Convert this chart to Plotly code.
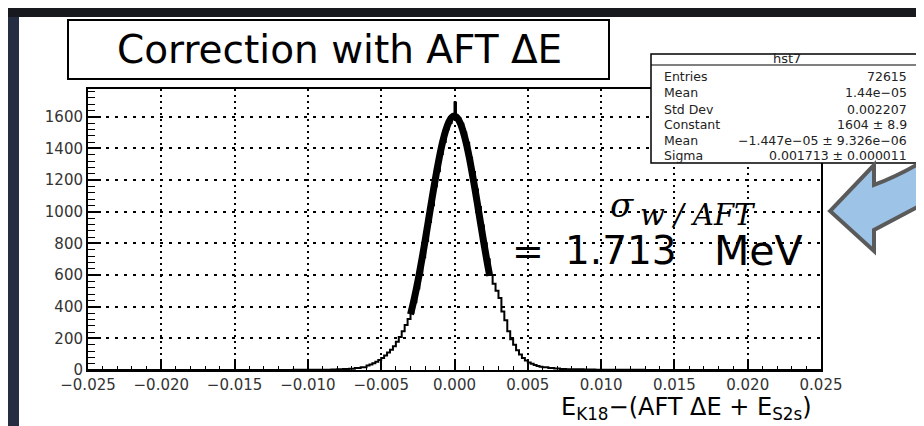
import plotly.graph_objects as go

# ---------------- data ----------------
hist_x = [-0.0250, -0.0110, -0.0100, -0.0094, -0.0088, -0.0084, -0.0080, -0.0076, -0.0072, -0.0068,
          -0.0064, -0.0060, -0.0058, -0.0056, -0.0054, -0.0052, -0.0050, -0.0048, -0.0046, -0.0044,
          -0.0042, -0.0040, -0.0038, -0.0036, -0.0034, -0.0032, -0.0030, -0.0028, -0.0026, -0.0024,
          -0.0022, -0.0020, -0.0018, -0.0016, -0.0014, -0.0012, -0.0010, -0.0008, -0.0006, -0.0004,
          -0.0002, 0.0000, 0.0001, 0.0002, 0.0004, 0.0006, 0.0008, 0.0010, 0.0012, 0.0014,
          0.0016, 0.0018, 0.0020, 0.0022, 0.0024, 0.0026, 0.0028, 0.0030, 0.0032, 0.0034,
          0.0036, 0.0038, 0.0040, 0.0042, 0.0044, 0.0046, 0.0048, 0.0050, 0.0052, 0.0054,
          0.0056, 0.0058, 0.0060, 0.0064, 0.0068, 0.0072, 0.0076, 0.0080, 0.0088, 0.0096,
          0.0110, 0.0130, 0.0250]
hist_y = [0, 1, 1, 2, 2, 3, 4, 6, 8, 12,
          18, 28, 35, 43, 52, 63, 76, 92, 110, 128,
          150, 178, 208, 245, 285, 322, 362, 428, 515, 605,
          712, 815, 935, 1040, 1160, 1255, 1365, 1440, 1520, 1560,
          1600, 1690, 1610, 1590, 1555, 1500, 1435, 1340, 1250, 1140,
          1030, 912, 800, 700, 600, 545, 500, 455, 370, 315,
          245, 195, 160, 125, 98, 76, 60, 48, 40, 32,
          26, 21, 17, 12, 9, 7, 5, 4, 3, 2,
          1, 0, 0]

fit_x = [-0.0030, -0.0028, -0.0026, -0.0024, -0.0022, -0.0020, -0.0018, -0.0016, -0.0014, -0.0012,
         -0.0010, -0.0008, -0.0006, -0.0004, -0.0002, 0.0000, 0.0002, 0.0004, 0.0006, 0.0008,
         0.0010, 0.0012, 0.0014, 0.0016, 0.0018, 0.0020, 0.0022, 0.0024]
fit_y = [351, 428, 513, 608, 711, 819, 932, 1045, 1157, 1262,
         1359, 1444, 1513, 1564, 1595, 1604, 1591, 1558, 1504, 1433,
         1346, 1247, 1141, 1029, 915, 803, 696, 594]

x_ticks = [-0.025, -0.020, -0.015, -0.010, -0.005, 0.000, 0.005, 0.010, 0.015, 0.020, 0.025]
y_ticks = [0, 200, 400, 600, 800, 1000, 1200, 1400, 1600]

stat_title = "hst7"
stat_labels = ["Entries", "Mean", "Std Dev", "Constant", "Mean", "Sigma"]
stat_values = ["72615", "1.44e−05", "0.002207", "1604 ± 8.9",
               "−1.447e−05 ± 9.326e−06", "0.001713 ± 0.000011"]

title_text = "Correction with AFT ΔE"
xlabel_text = "E<sub>K18</sub>−(AFT ΔE + E<sub>S2s</sub>)"

# ---------------- layout geometry (pixels) ----------------
W, H = 924, 426
L, R, T, B = 80, 813, 81, 362


def px(xp):
    return (xp - L) / (R - L)


def py(yp):
    return (B - yp) / (B - T)


fig = go.Figure()
fig.add_trace(go.Scatter(x=hist_x, y=hist_y, mode="lines", line=dict(color="black", width=2, shape="hv"),
                         hoverinfo="skip", showlegend=False))
fig.add_trace(go.Scatter(x=fit_x, y=fit_y, mode="lines", line=dict(color="black", width=7, shape="spline"),
                         hoverinfo="skip", showlegend=False))

shapes = []
# dark slide background strips
shapes.append(dict(type="rect", xref="paper", yref="paper", x0=px(0), x1=px(11), y0=py(H), y1=py(0),
                   fillcolor="#252d42", line=dict(width=0), layer="above"))
shapes.append(dict(type="rect", xref="paper", yref="paper", x0=px(0), x1=px(W), y0=py(9), y1=py(0),
                   fillcolor="#17191f", line=dict(width=0), layer="above"))
# title box
shapes.append(dict(type="rect", xref="paper", yref="paper", x0=px(60), x1=px(601), y0=py(71), y1=py(12),
                   fillcolor="white", line=dict(color="black", width=2), layer="above"))
# stats box
shapes.append(dict(type="rect", xref="paper", yref="paper", x0=px(643), x1=px(916), y0=py(155), y1=py(46),
                   fillcolor="white", line=dict(color="black", width=1.5), layer="above"))
shapes.append(dict(type="line", xref="paper", yref="paper", x0=px(643), x1=px(916), y0=py(57), y1=py(57),
                   line=dict(color="black", width=1), layer="above"))
# curved arrow
path = "M {:.4f},{:.4f} L {:.4f},{:.4f} L {:.4f},{:.4f} ".format(px(822), py(203), px(866), py(157), px(866), py(177))
path += "Q {:.4f},{:.4f} {:.4f},{:.4f} ".format(px(896), py(166), px(930), py(144))
path += "L {:.4f},{:.4f} ".format(px(930), py(188))
path += "Q {:.4f},{:.4f} {:.4f},{:.4f} ".format(px(896), py(206), px(866), py(222))
path += "L {:.4f},{:.4f} Z".format(px(866), py(243))
shapes.append(dict(type="path", xref="paper", yref="paper", path=path,
                   fillcolor="#9dc3e6", line=dict(color="#5a5a5a", width=4), layer="above"))

ann = []
ann.append(dict(text=title_text, x=px(331), y=py(42), xref="paper", yref="paper", showarrow=False,
                font=dict(family="DejaVu Sans", size=39, color="black"), xanchor="center", yanchor="middle"))
ann.append(dict(text=stat_title, x=px(779), y=py(51), xref="paper", yref="paper", showarrow=False,
                font=dict(family="DejaVu Sans", size=13, color="#222"), xanchor="center", yanchor="middle"))
row_y = [69, 85, 101, 116, 132, 147]
for lab, val, yy in zip(stat_labels, stat_values, row_y):
    ann.append(dict(text=lab, x=px(654), y=py(yy), xref="paper", yref="paper", showarrow=False,
                    font=dict(family="DejaVu Sans", size=12.5, color="#222"), xanchor="left", yanchor="middle"))
    ann.append(dict(text=val, x=px(901), y=py(yy), xref="paper", yref="paper", showarrow=False,
                    font=dict(family="DejaVu Sans", size=12.5, color="#222"), xanchor="right", yanchor="middle"))
# sigma annotation
ann.append(dict(text="<i>σ</i>", x=px(614), y=py(197), xref="paper", yref="paper", showarrow=False,
                font=dict(family="DejaVu Serif", size=34, color="black"), xanchor="center", yanchor="middle"))
ann.append(dict(text="<i>w / AFT</i>", x=px(630), y=py(207), xref="paper", yref="paper", showarrow=False,
                font=dict(family="DejaVu Serif", size=29, color="black"), xanchor="left", yanchor="middle"))
ann.append(dict(text="=", x=px(520), y=py(243), xref="paper", yref="paper", showarrow=False,
                font=dict(family="DejaVu Sans", size=38, color="black"), xanchor="center", yanchor="middle"))
ann.append(dict(text="1.713", x=px(613), y=py(243), xref="paper", yref="paper", showarrow=False,
                font=dict(family="DejaVu Sans", size=39, color="black"), xanchor="center", yanchor="middle"))
ann.append(dict(text="MeV", x=px(750), y=py(243), xref="paper", yref="paper", showarrow=False,
                font=dict(family="DejaVu Sans", size=41, color="black"), xanchor="center", yanchor="middle"))
# x-axis title
ann.append(dict(text=xlabel_text, x=px(806), y=py(401), xref="paper", yref="paper", showarrow=False,
                font=dict(family="DejaVu Sans", size=24, color="black"), xanchor="right", yanchor="middle"))

fig.update_layout(
    width=W, height=H,
    margin=dict(l=L, r=W - R, t=T, b=H - B, pad=0),
    paper_bgcolor="white", plot_bgcolor="white",
    shapes=shapes, annotations=ann,
    showlegend=False,
)
axis_common = dict(showline=True, linecolor="black", linewidth=2, mirror=True, ticks="inside",
                   tickcolor="black", tickwidth=1.5, zeroline=False, showgrid=True, gridcolor="black",
                   gridwidth=2, tickfont=dict(family="DejaVu Sans", size=15, color="#333"))
fig.update_xaxes(range=[-0.025, 0.025], tickvals=x_ticks, tickformat=".3f", ticklen=9,
                 griddash="2px,4px",
                 minor=dict(tickvals=[v / 1000 for v in range(-25, 26)], ticks="inside", ticklen=4,
                            tickcolor="black", tickwidth=1.2, showgrid=False),
                 **axis_common)
fig.update_yaxes(range=[0, 1775], tickvals=y_ticks, ticklen=13, griddash="3px,6px",
                 minor=dict(tickvals=list(range(0, 1776, 40)), ticks="inside", ticklen=7,
                            tickcolor="black", tickwidth=1.2, showgrid=False),
                 **axis_common)

fig.write_html("out.html")
